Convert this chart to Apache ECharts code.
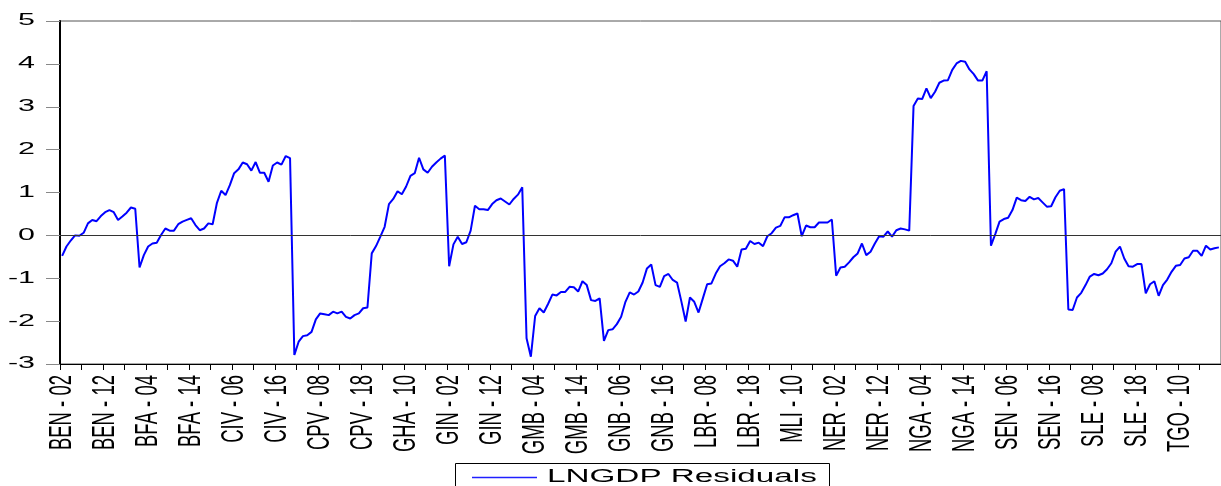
<!DOCTYPE html>
<html>
<head>
<meta charset="utf-8">
<script src="https://cdn.jsdelivr.net/npm/echarts@6/dist/echarts.min.js"></script>
<style>
html,body{margin:0;padding:0;background:#fff;}
#chart{width:1221px;height:486px;}
</style>
</head>
<body>
<div id="chart"></div>
<script>
// Panel: 15 countries, years 2002-2019
const countries = ['BEN','BFA','CIV','CPV','GHA','GIN','GMB','GNB','LBR','MLI','NER','NGA','SEN','SLE','TGO'];
const years = ['02','03','04','05','06','07','08','09','10','11','12','13','14','15','16','17','18','19'];

const BEN = [-0.48,-0.26,-0.12,0.00,-0.01,0.06,0.28,0.36,0.33,0.45,0.54,0.59,0.54,0.36,0.44,0.53,0.65,0.62];
const BFA = [-0.75,-0.46,-0.26,-0.19,-0.17,0.01,0.16,0.11,0.11,0.26,0.32,0.36,0.40,0.24,0.12,0.16,0.28,0.26];
const CIV = [0.76,1.04,0.94,1.17,1.45,1.54,1.70,1.66,1.51,1.71,1.46,1.46,1.25,1.63,1.70,1.65,1.85,1.80];
const CPV = [-2.79,-2.48,-2.35,-2.33,-2.25,-1.96,-1.82,-1.84,-1.86,-1.78,-1.82,-1.78,-1.90,-1.94,-1.86,-1.82,-1.70,-1.68];
const GHA = [-0.42,-0.25,-0.03,0.20,0.73,0.85,1.03,0.96,1.14,1.39,1.45,1.81,1.54,1.46,1.60,1.70,1.79,1.86];
const GIN = [-0.72,-0.21,-0.03,-0.20,-0.16,0.11,0.69,0.61,0.61,0.59,0.73,0.82,0.86,0.79,0.72,0.85,0.95,1.12];
const GMB = [-2.40,-2.83,-1.88,-1.70,-1.80,-1.60,-1.38,-1.40,-1.32,-1.32,-1.20,-1.21,-1.31,-1.07,-1.16,-1.51,-1.53,-1.47];
const GNB = [-2.46,-2.21,-2.19,-2.07,-1.90,-1.55,-1.33,-1.38,-1.31,-1.10,-0.77,-0.68,-1.16,-1.20,-0.95,-0.90,-1.04,-1.10];
const LBR = [-1.54,-2.01,-1.45,-1.55,-1.80,-1.47,-1.14,-1.12,-0.89,-0.72,-0.65,-0.56,-0.59,-0.73,-0.33,-0.31,-0.13,-0.20];
const MLI = [-0.17,-0.25,-0.02,0.05,0.18,0.22,0.42,0.42,0.47,0.51,-0.02,0.23,0.19,0.19,0.30,0.30,0.30,0.37];
const NER = [-0.94,-0.75,-0.73,-0.63,-0.51,-0.42,-0.19,-0.46,-0.38,-0.19,-0.02,-0.03,0.09,-0.03,0.12,0.16,0.14,0.11];
const NGA = [3.02,3.19,3.18,3.43,3.20,3.35,3.56,3.61,3.62,3.86,4.01,4.07,4.05,3.87,3.76,3.61,3.61,3.83];
const SEN = [-0.24,0.03,0.32,0.38,0.41,0.59,0.88,0.82,0.80,0.90,0.84,0.87,0.77,0.67,0.68,0.89,1.04,1.08];
const SLE = [-1.73,-1.74,-1.45,-1.34,-1.16,-0.96,-0.90,-0.93,-0.89,-0.79,-0.65,-0.38,-0.26,-0.54,-0.72,-0.73,-0.67,-0.67];
const TGO = [-1.35,-1.14,-1.07,-1.41,-1.16,-1.03,-0.85,-0.71,-0.69,-0.54,-0.51,-0.36,-0.36,-0.48,-0.24,-0.33,-0.30,-0.28];

const seriesName = 'LNGDP Residuals';
const yTicks = [-3,-2,-1,0,1,2,3,4,5];
const labelEvery = 10;

const byCountry = [BEN,BFA,CIV,CPV,GHA,GIN,GMB,GNB,LBR,MLI,NER,NGA,SEN,SLE,TGO];
const categories = [];
const values = [];
countries.forEach((c, i) => {
  years.forEach((y, j) => {
    categories.push(c + ' - ' + y);
    values.push(byCountry[i][j]);
  });
});
const labelIdx = [];
for (let i = 0; i < categories.length; i += labelEvery) labelIdx.push(i);

const FONT = '"Liberation Sans", Arial, Helvetica, sans-serif';

const chart = echarts.init(document.getElementById('chart'), null, {renderer: 'canvas'});
chart.setOption({
  animation: false,
  backgroundColor: '#fff',
  grid: {
    left: 60, right: -5, top: 21, bottom: 122,
    show: true, borderColor: '#555', borderWidth: 1, backgroundColor: 'transparent'
  },
  xAxis: {
    type: 'category',
    data: categories,
    boundaryGap: true,
    axisLine: {show: true, onZero: false, lineStyle: {color: '#000', width: 1}},
    axisTick: {show: true, interval: 4, length: 6, lineStyle: {color: '#000'}},
    axisLabel: {show: false, interval: labelEvery - 1},
    splitLine: {show: false}
  },
  yAxis: {
    type: 'value',
    min: yTicks[0], max: yTicks[yTicks.length - 1], interval: 1,
    axisLine: {show: true, lineStyle: {color: '#000', width: 2}},
    axisTick: {show: true, length: 14, lineStyle: {color: '#888'}},
    axisLabel: {show: false},
    splitLine: {show: false}
  },
  series: [{
    name: seriesName,
    type: 'line',
    data: values,
    symbol: 'none',
    lineStyle: {color: '#0000FF', width: 2},
    itemStyle: {color: '#0000FF'},
    markLine: {
      silent: true, symbol: 'none', label: {show: false},
      lineStyle: {color: '#333', width: 1, type: 'solid'},
      data: [{yAxis: 0}]
    },
    z: 3
  }, {
    // category tick labels (drawn at the axis positions, stretched like the original)
    type: 'custom',
    silent: true,
    clip: false,
    data: labelIdx.map(i => [i, yTicks[0]]),
    renderItem: function (params, api) {
      const i = api.value(0);
      const p = api.coord([i, yTicks[0]]);
      return {
        type: 'text', x: p[0], y: p[1] + 11, rotation: Math.PI / 2, scaleY: 1.67,
        style: {text: categories[i], fill: '#000', fontSize: 18.5, fontFamily: FONT,
                align: 'right', verticalAlign: 'middle', textAlign: 'right', textVerticalAlign: 'middle'}
      };
    },
    z: 5
  }, {
    // value tick labels
    type: 'custom',
    silent: true,
    clip: false,
    data: yTicks.map(v => [0, v]),
    renderItem: function (params, api) {
      const v = api.value(1);
      const p = api.coord([0, v]);
      const axisX = p[0] - api.size([1, 0])[0] / 2;
      return {
        type: 'text', x: axisX - 25, y: p[1], scaleX: 1.9,
        style: {text: String(v), fill: '#000', fontSize: 16, fontFamily: FONT,
                align: 'right', verticalAlign: 'middle', textAlign: 'right', textVerticalAlign: 'middle'}
      };
    },
    z: 5
  }],
  graphic: [
    {type: 'rect', shape: {x: 455.5, y: 463.5, width: 374, height: 40}, style: {fill: '#fff', stroke: '#000', lineWidth: 1}},
    {type: 'line', shape: {x1: 472, y1: 477.5, x2: 537, y2: 477.5}, style: {stroke: '#2020FF', lineWidth: 1.5}},
    {type: 'text', x: 547, y: 477, scaleX: 1.9,
     style: {text: seriesName, fill: '#000', fontSize: 17.5, fontFamily: FONT,
             textVerticalAlign: 'middle', verticalAlign: 'middle'}}
  ]
});
</script>
</body>
</html>
